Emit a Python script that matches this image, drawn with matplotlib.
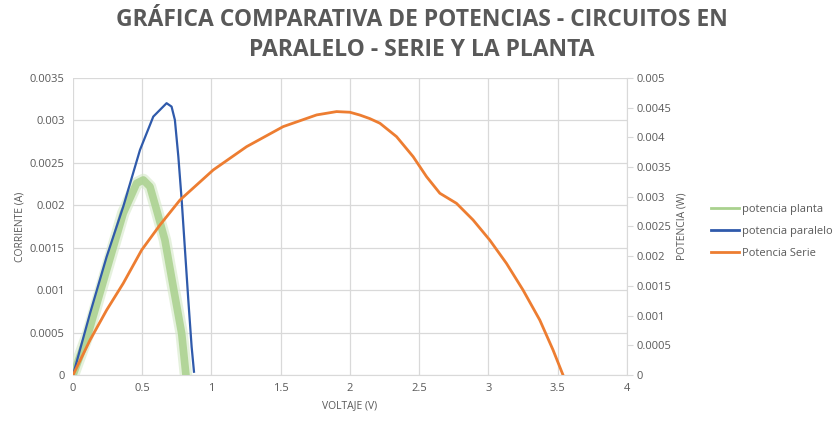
import matplotlib
matplotlib.use("Agg")
import matplotlib.pyplot as plt
import matplotlib.patheffects as pe
import numpy as np

# potencia planta (eje izquierdo)
v_planta = [0, 0.11, 0.243, 0.363, 0.46, 0.508, 0.556, 0.604, 0.664, 0.724, 0.785, 0.816]
p_planta = [0, 0.00049, 0.001238, 0.001906, 0.002259, 0.002298, 0.002219, 0.001945,
            0.001591, 0.001041, 0.000491, 0.0]

# potencia paralelo (eje izquierdo)
v_paralelo = [0, 0.123, 0.243, 0.363, 0.484, 0.58, 0.628, 0.676, 0.712, 0.736, 0.761,
              0.785, 0.809, 0.833, 0.857, 0.874]
p_paralelo = [0, 0.000727, 0.001394, 0.001984, 0.002652, 0.003044, 0.003123, 0.003202,
              0.003162, 0.003005, 0.002573, 0.002063, 0.001473, 0.000884, 0.000334, 0.00004]

# Potencia Serie (eje derecho)
v_serie = [0, 0.123, 0.243, 0.363, 0.496, 0.628, 0.773, 1.013, 1.254, 1.518, 1.76, 1.904,
           2.0, 2.072, 2.144, 2.217, 2.337, 2.457, 2.554, 2.65, 2.77, 2.89, 3.01, 3.131,
           3.251, 3.372, 3.468, 3.54]
p_serie = [0, 0.000589, 0.001094, 0.001544, 0.002104, 0.002525, 0.002946, 0.003451,
           0.003843, 0.00418, 0.004377, 0.004433, 0.004422, 0.004375, 0.004315, 0.004237,
           0.004012, 0.003675, 0.003338, 0.003059, 0.00289, 0.00261, 0.002273, 0.00188,
           0.001431, 0.000926, 0.000421, 0.0]

gray = "#595959"
grid_c = "#d9d9d9"
plt.rcParams['font.family'] = ['Open Sans', 'DejaVu Sans']

fig = plt.figure(figsize=(8.39, 4.21), dpi=100)
ax = fig.add_axes([0.087, 0.109, 0.66, 0.706])
ax2 = ax.twinx()

ax.plot(v_planta, p_planta, color="#a9d18e", lw=5.5, alpha=0.85, solid_joinstyle="round",
        path_effects=[pe.Stroke(linewidth=9, foreground="#d4e9c7", alpha=0.6), pe.Normal()],
        label="potencia planta", zorder=3)
ax.plot(v_paralelo, p_paralelo, color="#2f5aab", lw=1.6, solid_joinstyle="round",
        label="potencia paralelo", zorder=4)
ax2.plot(v_serie, p_serie, color="#ed7d31", lw=2, solid_joinstyle="round",
         label="Potencia Serie", zorder=4)

ax.set_xlim(0, 4)
ax.set_ylim(0, 0.0035)
ax2.set_ylim(0, 0.005)
ax.set_xticks(np.arange(0, 4.01, 0.5))
ax.set_xticklabels(["0", "0.5", "1", "1.5", "2", "2.5", "3", "3.5", "4"])
ax.set_yticks(np.arange(0, 0.00351, 0.0005))
ax.set_yticklabels(["0", "0.0005", "0.001", "0.0015", "0.002", "0.0025", "0.003", "0.0035"])
ax2.set_yticks(np.arange(0, 0.00501, 0.0005))
ax2.set_yticklabels(["0", "0.0005", "0.001", "0.0015", "0.002", "0.0025", "0.003",
                     "0.0035", "0.004", "0.0045", "0.005"])

ax.grid(True, color=grid_c, lw=0.9)
ax.set_axisbelow(True)
for a in (ax, ax2):
    for s in a.spines.values():
        s.set_visible(False)
ax.spines['bottom'].set_visible(True)
ax.spines['bottom'].set_color(grid_c)
ax2.spines['right'].set_visible(True)
ax2.spines['right'].set_color(grid_c)
ax.tick_params(axis='both', length=0, labelsize=8, colors=gray, pad=6)
ax2.tick_params(axis='y', length=4, color=grid_c, labelsize=8, labelcolor=gray, pad=3)

ax.set_xlabel("VOLTAJE (V)", fontsize=7.5, color=gray, labelpad=4)
ax.set_ylabel("CORRIENTE (A)", fontsize=7.5, color=gray, labelpad=3)
ax2.set_ylabel("POTENCIA (W)", fontsize=7.5, color=gray, labelpad=4)

fig.suptitle("GRÁFICA COMPARATIVA DE POTENCIAS - CIRCUITOS EN\nPARALELO - SERIE Y LA PLANTA",
             x=0.503, y=0.98, fontsize=16.5, fontweight="bold", color=gray, linespacing=1.3)

h1, l1 = ax.get_legend_handles_labels()
h2, l2 = ax2.get_legend_handles_labels()
leg = fig.legend(h1 + h2, l1 + l2, loc="center left", bbox_to_anchor=(0.835, 0.45),
                 frameon=False, fontsize=8, handlelength=2.6, handletextpad=0.2,
                 labelspacing=1.0, labelcolor=gray)
for line in leg.get_lines():
    line.set_linewidth(2)
    line.set_path_effects([])
    line.set_alpha(1)

fig.savefig("out.png", dpi=100)
